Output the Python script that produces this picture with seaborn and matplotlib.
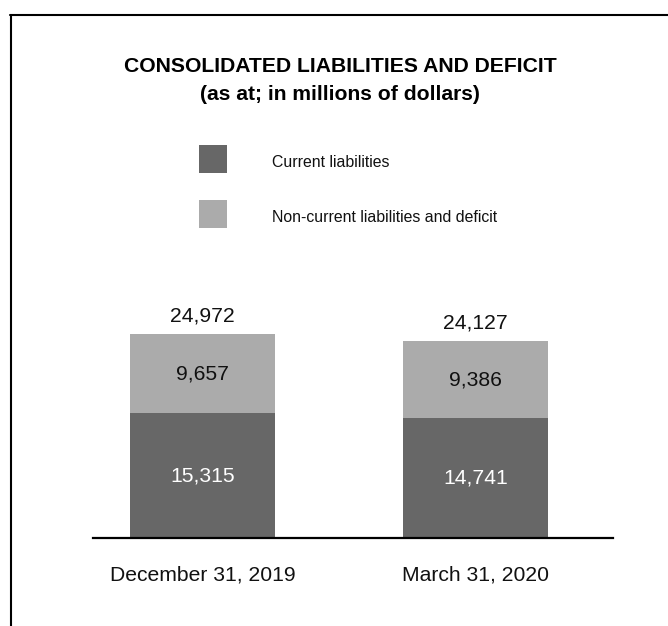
import matplotlib
matplotlib.use("Agg")
import matplotlib.pyplot as plt
from matplotlib.lines import Line2D
import pandas as pd
import seaborn as sns

# Balance sheet figures (millions of dollars)
dates = ["December 31, 2019", "March 31, 2020"]
current_liabilities = [15315, 14741]
noncurrent_and_deficit = [9657, 9386]
totals = [24972, 24127]

title_line1 = "CONSOLIDATED LIABILITIES AND DEFICIT"
title_line2 = "(as at; in millions of dollars)"
series_names = ["Current liabilities", "Non-current liabilities and deficit"]

DARK = "#676767"
LIGHT = "#ababab"

sns.set_theme(style="white")
plt.rcParams["font.family"] = ["Liberation Sans", "DejaVu Sans"]

df = pd.DataFrame({
    "date": dates,
    "current": current_liabilities,
    "noncurrent": noncurrent_and_deficit,
    "total": totals,
})

W, H, DPI = 668, 626, 100
fig = plt.figure(figsize=(W / DPI, H / DPI), dpi=DPI)
fig.patch.set_facecolor("white")

ax = fig.add_axes([93 / W, 88 / H, 520 / W, 238 / H])

# Stacked bars: full height in the light tone, current part drawn over it
sns.barplot(data=df, x="date", y="total", color=LIGHT, saturation=1,
            width=0.531, linewidth=0, ax=ax)
sns.barplot(data=df, x="date", y="current", color=DARK, saturation=1,
            width=0.531, linewidth=0, ax=ax)

ax.set_xlim(-0.401, 1.504)
ax.set_ylim(0, 29200)

VAL_FS = 15.2

# Segment values
ax.bar_label(ax.containers[1], labels=[f"{v:,}" for v in df["current"]],
             label_type="center", color="white", fontsize=VAL_FS)
for i, (cur, nc) in enumerate(zip(df["current"], df["noncurrent"])):
    ax.text(i, cur + nc / 2, f"{nc:,}", ha="center", va="center",
            fontsize=VAL_FS, color="#111111")
    ax.text(i, cur + nc + 2300, f"{cur + nc:,}", ha="center", va="center",
            fontsize=VAL_FS, color="#111111")

ax.set_xlabel("")
ax.set_ylabel("")
ax.set_yticks([])
ax.tick_params(axis="x", length=0, pad=20, labelsize=VAL_FS, labelcolor="#111111")
for side in ["top", "left", "right"]:
    ax.spines[side].set_visible(False)
ax.spines["bottom"].set_color("black")
ax.spines["bottom"].set_linewidth(1.6)
ax.set_facecolor("none")

# Title
fig.text(340 / W, 1 - 66 / H, title_line1, ha="center", va="center",
         fontsize=15.2, fontweight="bold", color="black")
fig.text(340 / W, 1 - 95 / H, title_line2, ha="center", va="center",
         fontsize=15.2, fontweight="bold", color="black")

# Legend with square swatches
LEG_FS = 11.4
em_px = LEG_FS * DPI / 72
sq = 27 / em_px  # swatch size in font-size units
handles = [Line2D([], [], marker="s", linestyle="none", markersize=27 * 72 / DPI,
                  markerfacecolor=c, markeredgewidth=0)
           for c in (DARK, LIGHT)]
fig.legend(handles, series_names, loc="upper left",
           bbox_to_anchor=(199 / W, 1 - 151 / H), frameon=False,
           fontsize=LEG_FS, borderpad=0, borderaxespad=0,
           handlelength=sq, handleheight=sq, handletextpad=46 / em_px,
           labelspacing=34 / em_px, labelcolor="#111111")

# Frame lines along the top and left edges
fig.add_artist(Line2D([10 / W, 1.0], [1 - 15 / H, 1 - 15 / H],
                      transform=fig.transFigure, color="black", linewidth=1.5))
fig.add_artist(Line2D([11 / W, 11 / W], [0, 1 - 15 / H],
                      transform=fig.transFigure, color="black", linewidth=1.5))

fig.savefig("out.png", dpi=DPI, facecolor="white")
